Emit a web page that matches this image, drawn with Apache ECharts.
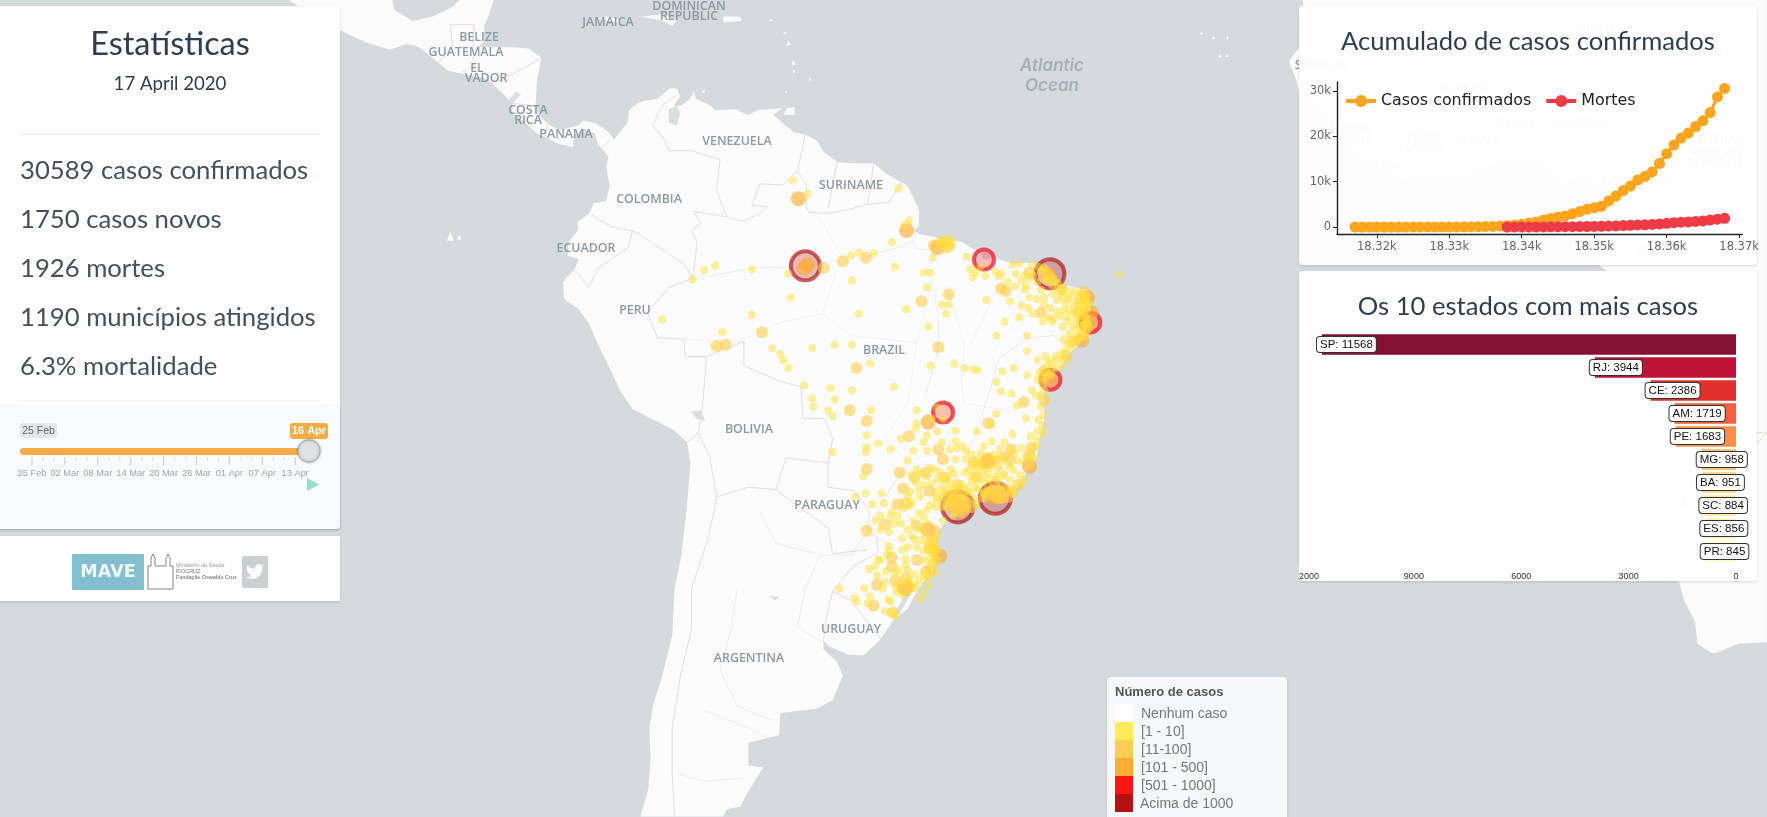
<!DOCTYPE html>
<html>
<head>
<meta charset="utf-8">
<title>Estatísticas COVID-19 Brasil</title>
<script src="https://cdn.jsdelivr.net/npm/echarts@6/dist/echarts.min.js"></script>
<style>
  html, body { margin: 0; padding: 0; background: #d4dadd; overflow: hidden; }
  #chart { width: 1767px; height: 817px; }
</style>
</head>
<body>
<div id="chart"></div>
<script>
// ─── Dados: painel de estatísticas ─────────────────────────────────────────
const statLines = ['30589 casos confirmados', '1750 casos novos', '1926 mortes', '1190 municípios atingidos', '6.3% mortalidade'];
const sliderTicks = ['25 Feb', '02 Mar', '08 Mar', '14 Mar', '20 Mar', '26 Mar', '01 Apr', '07 Apr', '13 Apr'];

// ─── Dados: acumulado ──────────────────────────────────────────────────────
const caseDays = [18317, 18318, 18319, 18320, 18321, 18322, 18323, 18324, 18325, 18326, 18327, 18328, 18329, 18330, 18331, 18332, 18333, 18334, 18335, 18336, 18337, 18338, 18339, 18340, 18341, 18342, 18343, 18344, 18345, 18346, 18347, 18348, 18349, 18350, 18351, 18352, 18353, 18354, 18355, 18356, 18357, 18358, 18359, 18360, 18361, 18362, 18363, 18364, 18365, 18366, 18367, 18368];
const caseTotals = [0, 1, 1, 1, 1, 2, 2, 2, 3, 4, 8, 13, 19, 25, 25, 34, 52, 77, 98, 121, 200, 291, 428, 621, 904, 1128, 1546, 1891, 2201, 2433, 2915, 3417, 3904, 4256, 4579, 5717, 6836, 8044, 9056, 10360, 11130, 12161, 14034, 16170, 18092, 19638, 20727, 22169, 23430, 25262, 28700, 30589];
const deathDays = [18338, 18339, 18340, 18341, 18342, 18343, 18344, 18345, 18346, 18347, 18348, 18349, 18350, 18351, 18352, 18353, 18354, 18355, 18356, 18357, 18358, 18359, 18360, 18361, 18362, 18363, 18364, 18365, 18366, 18367, 18368];
const deathTotals = [1, 4, 7, 11, 18, 25, 34, 46, 59, 77, 92, 111, 136, 159, 201, 240, 324, 359, 445, 486, 564, 686, 819, 950, 1057, 1124, 1223, 1328, 1532, 1736, 1926];
const dayTicks = [18320, 18330, 18340, 18350, 18360, 18370];
const totalTicks = [0, 10000, 20000, 30000];

// ─── Dados: estados ────────────────────────────────────────────────────────
const stateNames = ['SP', 'RJ', 'CE', 'AM', 'PE', 'MG', 'BA', 'SC', 'ES', 'PR'];
const stateCases = [11568, 3944, 2386, 1719, 1683, 958, 951, 884, 856, 845];
const stateColors = ['#861033', '#be1336', '#e3302a', '#f95f38', '#fd8f46', '#fdbb63', '#fed583', '#ffe89c', '#fff3b4', '#ffffcc'];

// ─── Dados: legenda ────────────────────────────────────────────────────────
const legendLabels = ['Nenhum caso', '[1 - 10]', '[11-100]', '[101 - 500]', '[501 - 1000]', 'Acima de 1000'];
const legendColors = ['#ffffff', '#ffeb55', '#ffcc55', '#ffac33', '#ff1414', '#b71010'];

// ─── Dados: municípios [lon, lat] por faixa de casos ───────────────────────
const citiesOver1000 = [[-60.0, -3.1], [-38.5, -3.8], [-46.6, -23.6], [-43.3, -22.9]];
const cities501to1000 = [[-44.3, -2.55], [-34.95, -8.05], [-38.45, -13.0], [-47.9, -15.8]];
const cities101to500 = [
  [-60.6, 2.8], [-51.1, 0.0], [-48.4, -1.5], [-35.2, -5.9], [-34.9, -7.2], [-35.0, -8.1], [-60.1, -3.3], [-59.8, -3.0],
  [-40.3, -20.3], [-49.2, -25.4], [-48.2, -27.5], [-51.2, -30.0], [-44.0, -19.9], [-49.2, -16.6],
  [-46.8, -23.3], [-46.4, -23.8], [-43.2, -22.7], [-43.6, -22.8], [-42.9, -22.6], [-38.5, -12.9], [-38.6, -3.9], [-35.7, -9.6]
];
const cities11to100 = [
  // norte e centro-oeste
  [-58.4, -3.3], [-56.7, -2.7], [-54.7, -2.4], [-67.8, -10.1], [-67.0, -10.0], [-63.8, -8.9], [-55.5, -12.0], [-49.8, -6.2], [-47.4, -5.6], [-48.3, -10.2],
  [-56.1, -15.6], [-54.6, -16.5], [-54.6, -20.5], [-51.7, -20.8], [-50.9, -17.8], [-48.3, -18.9], [-47.9, -19.7], [-48.7, -1.3], [-47.9, -1.1], [-47.4, -1.4],
  // nordeste
  [-42.8, -5.1], [-42.4, -5.3], [-40.3, -3.7], [-37.4, -5.2], [-36.0, -7.2], [-38.6, -4.0], [-39.3, -7.2], [-35.5, -5.4], [-35.8, -6.0], [-37.1, -10.9],
  [-36.5, -9.7], [-35.2, -8.5], [-39.0, -14.8], [-39.0, -12.2], [-40.8, -14.9], [-38.9, -3.6],
  // sudeste
  [-47.1, -22.9], [-47.8, -21.2], [-46.3, -24.0], [-45.9, -23.2], [-47.5, -23.5], [-43.4, -21.8], [-46.9, -23.1], [-46.5, -23.4], [-46.7, -23.8], [-46.2, -23.4], [-46.1, -23.8],
  [-46.9, -23.6], [-46.4, -23.2], [-46.6, -23.3], [-45.4, -23.6], [-49.4, -20.8], [-49.1, -22.3], [-51.4, -22.1], [-50.4, -21.2], [-47.6, -22.7],
  [-43.1, -22.9], [-42.8, -22.9], [-43.5, -22.5], [-43.0, -22.4], [-43.7, -22.5], [-42.2, -22.8], [-41.8, -22.4], [-43.3, -22.4], [-44.1, -22.5], [-42.5, -22.3], [-41.3, -21.8], [-43.4, -22.7], [-43.1, -22.7],
  [-44.1, -19.7], [-44.3, -20.1], [-43.9, -19.6], [-43.5, -19.9], [-42.6, -19.5], [-42.0, -19.8], [-45.2, -20.0], [-41.9, -18.9], [-40.4, -20.1], [-40.3, -19.4], [-40.1, -18.7], [-43.9, -16.7], [-45.0, -21.2], [-46.6, -21.8],
  // sul
  [-53.0, -25.0], [-54.6, -25.5], [-51.2, -23.3], [-51.9, -23.4], [-50.2, -27.8], [-52.4, -27.6], [-48.85, -26.3], [-48.7, -26.9], [-49.1, -26.9], [-49.4, -28.7], [-49.0, -28.5],
  [-53.7, -29.7], [-54.0, -31.3], [-52.4, -28.3], [-51.2, -29.2], [-51.0, -29.7], [-50.9, -29.9], [-51.5, -30.0], [-48.6, -25.5], [-50.2, -25.1], [-52.1, -29.4], [-52.3, -31.8]
];
const cities1to10 = [
  // norte
  [-61.1, 4.4], [-59.8, 3.2], [-51.8, 3.7], [-50.9, 0.9], [-51.2, 0.5], [-52.4, -1.0], [-69.9, -4.3], [-68.9, -3.5], [-67.9, -3.1], [-64.7, -3.4], [-61.5, -3.8], [-56.0, -2.2], [-55.3, -1.9], [-54.0, -2.0],
  [-55.9, -4.4], [-52.1, -3.2], [-61.3, -5.9], [-64.7, -7.4], [-67.3, -8.9], [-72.6, -7.8], [-62.9, -10.3], [-62.2, -10.8], [-61.9, -11.3], [-61.5, -12.0], [-59.4, -10.3], [-57.4, -10.0], [-55.9, -10.0],
  [-54.3, -11.6], [-60.1, -13.5], [-55.3, -7.3], [-51.1, -6.9], [-49.2, -8.4], [-49.0, -3.7], [-49.6, -3.7], [-49.3, -5.0], [-48.0, -6.5], [-47.4, -6.5], [-47.6, -7.3], [-49.0, -11.8], [-46.9, -11.6], [-46.0, -12.0], [-45.2, -12.1],
  [-47.9, -1.3], [-47.4, -1.0], [-47.1, -1.2], [-47.6, -1.7], [-48.8, -2.4], [-47.2, -0.8], [-48.2, -0.9], [-47.7, -0.7],
  // maranhão, piauí, ceará
  [-45.8, -2.3], [-45.5, -3.4], [-45.3, -4.1], [-43.3, -3.6], [-43.0, -4.0], [-44.1, -6.1], [-41.0, -6.6], [-41.2, -7.6], [-42.0, -6.2], [-41.8, -3.0], [-44.2, -4.0], [-42.5, -8.0], [-43.2, -9.2],
  [-41.2, -2.9], [-40.1, -3.0], [-39.5, -3.2], [-39.3, -3.6], [-40.3, -4.2], [-39.6, -4.5], [-38.9, -4.3], [-38.3, -4.8], [-37.8, -4.6], [-39.3, -5.2], [-40.7, -5.2], [-40.3, -5.9], [-39.0, -5.9], [-38.3, -5.5], [-39.0, -6.5], [-40.4, -6.8], [-38.5, -6.8],
  [-39.0, -3.3], [-38.7, -4.3], [-38.2, -4.2], [-40.0, -3.9], [-40.7, -3.9], [-37.8, -5.1], [-39.6, -6.0], [-40.0, -7.3],
  [-41.5, -3.8], [-41.0, -4.4], [-40.6, -4.9], [-41.6, -4.9], [-42.2, -4.5], [-42.8, -3.8], [-44.6, -3.2], [-45.0, -3.7],
  // rio grande do norte, paraíba, pernambuco, alagoas, sergipe
  [-37.3, -5.2], [-36.5, -5.3], [-36.0, -5.5], [-36.2, -6.2], [-35.6, -5.6], [-37.1, -6.4], [-35.4, -6.4], [-35.2, -6.9], [-35.9, -6.9], [-36.8, -7.0], [-37.3, -7.0], [-38.2, -7.7], [-35.3, -7.6], [-35.5, -8.2], [-36.5, -8.3], [-37.0, -8.0], [-38.3, -8.0], [-39.1, -8.0],
  [-40.5, -9.2], [-35.7, -8.9], [-36.5, -9.4], [-37.3, -9.5], [-36.0, -9.5], [-35.4, -9.3], [-36.6, -10.2], [-37.3, -10.6], [-37.5, -11.2], [-37.9, -10.9], [-35.4, -6.1], [-35.6, -7.0], [-35.7, -7.5], [-35.3, -8.8], [-35.9, -8.3], [-36.9, -6.0], [-35.1, -6.4], [-35.5, -6.7], [-36.2, -7.7], [-37.6, -7.5], [-35.2, -7.9],
  [-38.1, -4.5], [-37.6, -5.5], [-37.9, -6.1], [-37.4, -5.9], [-36.7, -5.7], [-36.4, -6.7], [-36.0, -6.5], [-35.7, -6.3], [-35.3, -5.7], [-36.3, -7.2], [-35.5, -7.3], [-35.9, -7.9], [-36.9, -7.6], [-37.9, -7.1], [-38.6, -7.6], [-37.4, -8.4], [-36.2, -8.7], [-35.6, -8.5], [-35.2, -8.2], [-36.8, -9.0], [-35.9, -9.2], [-36.3, -9.8], [-37.0, -10.0],
  [-32.4, -3.85],
  // bahia
  [-38.9, -12.3], [-39.3, -12.9], [-38.6, -12.5], [-39.1, -13.4], [-39.3, -14.3], [-39.5, -16.4], [-39.1, -17.5], [-39.6, -18.1], [-40.5, -12.6], [-41.7, -12.0], [-42.7, -12.3], [-43.2, -13.2], [-44.9, -12.2], [-41.9, -14.2], [-42.8, -14.0], [-40.5, -10.5], [-39.6, -11.3], [-41.4, -15.2], [-38.0, -12.0], [-38.3, -12.0], [-38.7, -11.6], [-39.0, -13.9], [-39.1, -16.0], [-39.3, -15.3],
  [-36.9, -11.2], [-37.4, -11.8], [-38.0, -11.3], [-38.4, -11.4], [-38.9, -11.0], [-38.4, -12.6], [-38.9, -12.8], [-39.4, -12.4], [-39.6, -13.0], [-39.7, -14.4], [-40.1, -13.9], [-39.2, -16.9], [-39.6, -17.4], [-39.8, -18.6],
  // centro-oeste e minas
  [-57.8, -13.7], [-55.9, -13.9], [-59.4, -14.6], [-57.4, -14.7], [-59.3, -15.3], [-58.0, -15.6], [-57.6, -16.1], [-54.2, -15.6], [-52.2, -13.6], [-54.6, -17.7], [-53.6, -18.4], [-54.6, -18.7], [-54.7, -19.1], [-52.5, -18.9], [-57.6, -19.1], [-54.9, -21.1], [-54.7, -22.5], [-55.6, -22.8], [-53.3, -22.5], [-54.1, -23.4],
  [-51.6, -18.0], [-50.2, -15.6], [-50.2, -16.7], [-50.3, -17.1], [-49.6, -18.3], [-49.3, -17.7], [-48.4, -17.4], [-48.0, -18.3], [-46.8, -17.3], [-46.8, -18.2], [-44.9, -17.4], [-43.7, -16.8], [-43.2, -15.9], [-41.8, -17.6], [-40.6, -16.3], [-40.2, -17.8], [-41.9, -19.0], [-50.5, -19.0], [-49.3, -19.0], [-47.3, -18.9], [-46.7, -18.8], [-46.2, -18.6], [-46.8, -19.7], [-45.4, -19.3], [-45.9, -19.7], [-45.4, -20.1], [-44.9, -20.3], [-44.6, -20.1], [-43.2, -19.7], [-42.6, -19.6], [-47.9, -16.3], [-48.9, -16.3], [-48.4, -15.4],
  [-51.0, -19.8], [-50.2, -20.5], [-49.3, -21.1], [-48.4, -21.3], [-47.7, -21.4], [-50.3, -21.6], [-49.6, -21.8], [-48.6, -22.4], [-47.6, -22.1], [-46.4, -21.8], [-45.4, -21.6], [-44.3, -21.6], [-43.1, -21.4], [-42.0, -21.4], [-41.1, -21.8], [-41.7, -22.4], [-40.1, -19.0], [-39.9, -19.6], [-41.7, -20.6], [-41.1, -21.0], [-40.7, -21.4], [-46.0, -20.8], [-45.0, -20.7], [-44.0, -20.9], [-43.0, -20.6], [-42.5, -20.9], [-48.6, -20.6], [-47.2, -20.5], [-46.4, -22.5], [-45.5, -22.4], [-44.8, -22.2], [-48.0, -23.0], [-47.0, -22.2], [-46.0, -22.0], [-45.0, -23.4], [-44.5, -22.9], [-47.0, -24.3], [-47.9, -24.7],
  [-45.9, -19.0], [-44.3, -18.6], [-43.6, -18.2], [-42.9, -18.8], [-42.5, -18.3], [-41.0, -18.8], [-40.6, -19.5], [-41.2, -19.9], [-41.6, -19.3], [-43.4, -19.3], [-44.6, -19.2], [-44.9, -19.7], [-43.7, -20.4], [-42.9, -20.2], [-42.1, -20.3], [-45.6, -20.6], [-44.4, -20.7], [-43.3, -21.1], [-42.6, -21.1], [-45.4, -21.1], [-44.7, -21.3], [-46.9, -20.9], [-47.4, -21.1], [-48.1, -20.8], [-49.0, -20.4], [-49.9, -20.9], [-50.7, -21.0], [-47.2, -21.7], [-46.7, -22.2], [-48.1, -22.0], [-48.9, -21.7], [-50.0, -22.2], [-50.8, -22.4], [-51.0, -22.8], [-46.8, -22.6], [-47.3, -22.5], [-47.9, -22.5], [-48.5, -22.8], [-45.9, -22.8], [-45.2, -22.9], [-44.3, -22.5], [-45.8, -22.2], [-44.0, -22.2], [-42.7, -21.9], [-42.0, -22.1], [-47.3, -23.2], [-47.9, -23.6], [-48.5, -23.6], [-49.3, -23.8], [-46.1, -22.6], [-45.0, -22.0], [-43.9, -21.3],
  // sul
  [-53.1, -23.3], [-52.4, -24.0], [-51.4, -23.7], [-50.8, -23.5], [-51.9, -24.3], [-52.5, -24.4], [-49.9, -22.8], [-49.0, -23.4], [-48.4, -23.0], [-50.5, -24.7], [-49.9, -25.4], [-51.5, -26.1], [-51.5, -27.0], [-52.7, -26.7], [-51.0, -26.8], [-51.2, -27.7], [-52.8, -27.4], [-53.4, -27.8], [-54.4, -28.5], [-53.6, -27.8], [-52.9, -28.7], [-53.7, -29.0], [-50.9, -29.3], [-49.3, -29.2], [-48.6, -28.8], [-48.4, -27.8], [-48.9, -27.3], [-49.3, -26.7], [-48.4, -27.0], [-48.7, -27.6], [-49.2, -29.8], [-49.6, -30.4], [-50.0, -30.8], [-52.1, -29.8], [-52.7, -30.8], [-54.8, -30.0], [-55.7, -30.7], [-57.0, -30.0], [-55.5, -31.0], [-54.5, -31.1], [-53.0, -31.7], [-52.4, -31.8], [-52.1, -32.1], [-52.5, -31.0], [-54.3, -30.6],
  [-48.7, -26.2], [-48.7, -26.6], [-48.6, -27.2], [-48.7, -28.2], [-48.9, -28.0], [-49.0, -27.7], [-49.2, -26.4], [-49.6, -27.1], [-50.4, -26.2], [-49.5, -25.8], [-48.5, -25.9], [-49.6, -24.4], [-51.0, -25.4], [-52.6, -25.6], [-53.8, -24.7], [-50.6, -23.2], [-50.0, -29.4], [-50.5, -28.9], [-50.4, -30.0], [-51.6, -29.5], [-51.8, -28.6], [-53.2, -30.0],
  [-49.3, -24.9], [-50.0, -24.1], [-50.6, -25.9], [-51.6, -24.9], [-52.2, -24.9], [-53.4, -24.3], [-53.4, -25.4], [-49.8, -26.3], [-50.2, -26.8], [-49.5, -27.8], [-49.0, -27.0], [-49.1, -28.9], [-49.7, -29.0], [-50.3, -29.7], [-51.0, -28.6], [-51.2, -28.2], [-52.1, -28.8], [-51.4, -30.5], [-52.0, -30.3], [-53.0, -29.5], [-53.9, -28.3], [-52.6, -27.1]
];

// ─── Dados: contornos [lon, lat] ───────────────────────────────────────────
const southAmericaCoast = [
  [-77.4, 8.7], [-76.8, 8.0], [-75.6, 9.5], [-75.5, 10.5], [-74.8, 11.1], [-74.2, 11.3], [-73.0, 11.5], [-71.9, 12.4], [-71.3, 12.4], [-71.0, 11.7], [-71.6, 10.9], [-71.0, 10.9], [-70.2, 11.4], [-69.8, 12.15], [-69.6, 11.5], [-68.3, 10.9], [-68.0, 10.5], [-66.2, 10.6], [-65.0, 10.1], [-64.2, 10.5], [-62.0, 10.7], [-62.8, 10.1], [-61.0, 8.6], [-60.0, 8.4], [-59.0, 7.9], [-58.4, 6.9], [-57.2, 6.0], [-55.9, 5.9], [-54.0, 5.9], [-52.9, 5.0], [-51.7, 4.3], [-51.0, 3.9], [-50.0, 1.8], [-50.0, 0.4], [-50.5, 0.0], [-50.0, -0.3], [-48.6, -0.6], [-48.0, -0.7], [-46.2, -1.0], [-44.7, -2.0], [-44.3, -2.6], [-43.4, -2.4], [-41.8, -2.9], [-40.0, -2.8], [-38.5, -3.7], [-37.2, -4.8], [-35.3, -5.2], [-34.8, -7.1], [-35.0, -8.9], [-35.9, -9.9], [-37.0, -11.0], [-38.0, -12.6], [-38.5, -13.0], [-39.0, -14.0], [-39.0, -16.3], [-39.4, -18.0], [-39.7, -19.6], [-40.3, -20.3], [-41.0, -21.5], [-42.0, -23.0], [-43.2, -23.0], [-44.6, -23.3], [-46.3, -24.0], [-47.9, -25.0], [-48.5, -26.0], [-48.6, -27.6], [-48.8, -28.6], [-50.0, -29.9], [-51.0, -31.5], [-52.2, -32.3], [-53.4, -33.8], [-54.9, -34.95], [-56.2, -34.9], [-57.9, -34.3], [-58.4, -33.9], [-58.4, -34.5], [-57.2, -35.4], [-56.7, -36.4], [-57.6, -38.1], [-59.0, -38.7], [-62.2, -39.0], [-62.3, -40.5], [-65.0, -41.0], [-65.0, -42.5], [-63.7, -42.6], [-65.3, -44.5], [-65.7, -45.1], [-66.9, -45.25], [-67.2, -45.7],
  [-74.5, -45.7], [-73.8, -44.0], [-73.6, -42.0], [-73.7, -40.0], [-73.4, -38.5], [-72.6, -36.5], [-71.7, -33.5], [-71.5, -30.0], [-70.9, -27.5], [-70.4, -23.5], [-70.1, -20.0], [-70.4, -18.3], [-71.5, -17.3], [-75.2, -15.5], [-76.3, -13.9], [-77.2, -12.0], [-78.2, -10.0], [-79.0, -8.2], [-79.9, -6.9], [-81.2, -6.0], [-81.3, -4.5], [-80.3, -3.4], [-79.9, -2.5], [-80.9, -2.2], [-80.8, -1.0], [-80.0, 0.0], [-80.0, 0.8], [-79.0, 1.5], [-78.6, 2.4], [-77.5, 2.6], [-77.2, 3.9], [-77.5, 5.5], [-77.3, 6.5], [-77.9, 7.2]
];
const centralAmericaCoast = [
  [-77.9, 7.2], [-78.2, 7.5], [-78.5, 8.5], [-79.5, 8.95], [-80.4, 8.2], [-80.4, 7.3], [-81.7, 7.6], [-82.9, 8.2], [-83.6, 8.5], [-84.8, 9.6], [-85.8, 10.2], [-85.7, 11.1], [-87.6, 12.9], [-87.9, 13.2], [-89.4, 13.5], [-91.4, 13.9], [-93.9, 15.9], [-95.0, 16.2], [-96.5, 15.7], [-98.6, 16.3], [-101.5, 17.6], [-104.0, 19.0], [-105.4, 19.85],
  [-96.3, 19.85], [-96.1, 19.0], [-94.5, 18.1], [-92.7, 18.5], [-91.0, 19.3], [-90.4, 19.85], [-87.4, 19.85], [-87.8, 18.6], [-88.2, 17.8], [-88.3, 16.3], [-88.9, 15.9], [-87.8, 15.9], [-85.7, 15.9], [-84.3, 15.8], [-83.2, 15.0], [-83.6, 13.0], [-83.7, 11.0], [-83.4, 10.0], [-82.3, 9.1], [-81.5, 8.8], [-80.0, 9.2], [-79.5, 9.6], [-78.5, 9.4], [-77.4, 8.7]
];
const africaCoast = [
  [-16.3, 19.85], [-16.0, 18.0], [-16.5, 16.0], [-17.5, 14.7], [-16.8, 13.0], [-16.7, 12.3], [-15.0, 11.0], [-13.7, 9.5], [-13.2, 8.5], [-12.5, 7.4], [-11.4, 6.9], [-9.5, 5.4], [-7.5, 4.4], [-5.0, 5.1], [-3.0, 5.1], [-2.0, 4.8], [0.0, 5.7], [1.5, 6.2], [2.7, 6.4], [4.4, 6.3], [5.5, 5.2], [6.2, 4.3], [7.5, 4.5], [8.5, 4.6], [9.7, 3.9], [9.8, 2.5], [9.5, 1.0], [9.3, -0.5], [8.8, -1.0], [9.7, -3.0], [11.0, -4.0], [12.0, -5.0], [12.3, -6.2], [13.0, -8.0], [13.7, -10.5], [13.9, -12.0], [12.6, -13.5], [12.0, -16.0], [11.8, -18.0], [13.0, -20.0], [14.5, -22.5], [14.6, -25.0], [15.2, -27.0], [16.5, -28.7], [17.3, -31.0], [18.2, -32.5], [18.4, -34.1], [19.5, -34.7], [20.0, -34.8], [22.0, -34.1], [24.5, -34.0], [24.5, 19.85]
];
const smallIslands = [
  [[-74.4, 18.45], [-72.6, 18.15], [-71.7, 17.7], [-71.3, 18.2], [-72.5, 18.6], [-73.5, 18.6]],
  [[-67.2, 18.0], [-65.6, 18.1], [-65.7, 18.45], [-67.2, 18.5]],
  [[-61.9, 10.1], [-60.95, 10.1], [-60.95, 10.8], [-61.6, 10.7]],
  [[-69.1, 12.05], [-68.8, 12.05], [-68.9, 12.35]],
  [[-63.2, 18.1], [-62.9, 18.1], [-63.0, 18.3]], [[-62.0, 17.1], [-61.7, 17.0], [-61.7, 17.2]], [[-61.7, 16.0], [-61.3, 16.1], [-61.5, 16.45]],
  [[-61.2, 14.4], [-60.85, 14.4], [-61.1, 14.85]], [[-61.1, 13.7], [-60.9, 13.75], [-61.0, 14.1]], [[-59.7, 13.05], [-59.45, 13.1], [-59.6, 13.3]], [[-61.8, 12.0], [-61.6, 12.05], [-61.7, 12.2]],
  [[-91.5, -0.9], [-90.9, -0.9], [-91.2, -0.1]], [[-90.6, -0.8], [-90.2, -0.8], [-90.4, -0.4]],
  [[-25.3, 17.0], [-25.0, 17.0], [-25.2, 17.2]], [[-24.3, 16.6], [-24.0, 16.6], [-24.1, 16.8]], [[-23.7, 15.0], [-23.4, 15.1], [-23.6, 15.3]], [[-23.0, 16.6], [-22.8, 16.6], [-22.9, 16.9]], [[-23.1, 15.1], [-22.8, 15.1], [-23.0, 15.3]],
  [[-78.3, 18.3], [-76.3, 17.95], [-76.4, 18.2], [-77.5, 18.5]]
];
const lakes = [
  [[-72.0, 10.6], [-71.3, 10.9], [-71.0, 10.2], [-71.3, 9.2], [-72.0, 9.4]],
  [[-70.0, -15.7], [-69.2, -15.6], [-68.8, -16.5], [-69.6, -16.3]],
  [[-52.2, -31.9], [-51.7, -31.9], [-50.8, -30.5], [-51.2, -30.2], [-51.5, -30.9]],
  [[-85.8, 11.0], [-85.0, 11.9], [-85.4, 12.1], [-86.0, 11.5]],
  [[-63.2, -30.6], [-62.3, -30.6], [-62.6, -30.9]]
];
const countryBorders = [
  [[-51.6, 4.2], [-52.6, 2.5], [-54.5, 2.3], [-56.0, 1.9], [-58.0, 1.5], [-59.7, 1.6], [-59.9, 2.2], [-59.9, 4.0], [-60.7, 5.2], [-62.0, 4.0], [-64.0, 4.1], [-64.7, 2.2], [-63.4, 2.1], [-64.0, 1.5], [-65.5, 0.8], [-66.9, 1.2], [-69.8, 1.7], [-69.2, 0.6], [-70.0, 0.0], [-69.5, -1.0], [-69.9, -4.2], [-72.0, -5.0], [-73.9, -7.2], [-73.0, -9.4], [-70.6, -9.5], [-70.6, -11.0], [-69.6, -11.0], [-68.7, -11.0], [-65.4, -9.7], [-65.4, -11.8], [-62.3, -13.1], [-60.4, -13.6], [-60.2, -16.3], [-58.3, -16.3], [-57.6, -18.0], [-58.0, -20.0], [-58.0, -22.0], [-55.7, -22.3], [-54.3, -24.0], [-54.6, -25.5], [-53.7, -26.0], [-53.6, -27.2], [-55.8, -28.3], [-57.6, -30.2], [-56.0, -30.9], [-53.4, -33.7]],
  [[-71.3, 11.8], [-72.5, 11.0], [-73.4, 9.2], [-72.4, 8.0], [-72.0, 7.0], [-70.0, 7.0], [-67.5, 6.2], [-67.8, 3.5], [-66.9, 1.2]],
  [[-69.9, -4.2], [-70.7, -2.9], [-74.8, -0.2], [-75.3, 0.0], [-77.0, 0.3], [-78.8, 1.4]],
  [[-75.2, -0.1], [-75.6, -1.5], [-78.3, -3.4], [-79.0, -5.0], [-80.3, -3.4]],
  [[-68.7, -11.0], [-69.0, -15.0], [-69.4, -17.5], [-70.4, -18.3]],
  [[-69.4, -17.5], [-68.4, -19.5], [-67.8, -22.8]],
  [[-67.8, -22.8], [-68.5, -26.0], [-70.0, -30.0], [-70.0, -33.0], [-71.0, -36.5], [-71.7, -40.0], [-71.7, -43.0], [-71.5, -45.7]],
  [[-67.8, -22.8], [-65.0, -22.0], [-62.6, -22.2], [-61.7, -19.6], [-58.0, -20.0]],
  [[-62.6, -22.2], [-58.0, -25.3], [-57.6, -27.3], [-54.6, -27.0]],
  [[-58.4, -33.9], [-58.1, -32.0], [-57.6, -30.2]],
  [[-57.2, 6.0], [-58.0, 2.0]], [[-54.0, 5.9], [-54.5, 2.3]], [[-60.7, 5.2], [-60.0, 8.4]],
  [[-92.2, 14.6], [-91.0, 16.0], [-91.2, 17.8], [-89.1, 17.8], [-89.2, 15.9]], [[-89.2, 14.3], [-87.8, 13.4]], [[-89.2, 15.9], [-89.2, 14.3], [-90.1, 13.8]],
  [[-87.0, 13.0], [-85.0, 14.0], [-83.2, 15.0]], [[-85.7, 11.1], [-83.7, 10.9]], [[-82.9, 8.2], [-82.6, 9.5]], [[-77.2, 7.9], [-77.9, 7.2]],
  [[17.0, -28.7], [20.0, -28.4], [20.0, -22.0], [24.5, -17.5]], [[11.8, -17.3], [24.5, -17.5]]
];
const stateBorders = [
  [[-58.5, -7.3], [-56.8, -2.3], [-58.8, 1.2]], [[-66.0, -9.8], [-62.0, -8.0], [-58.5, -7.3], [-56.0, -9.2], [-50.2, -9.8]],
  [[-50.2, -9.8], [-49.0, -5.3], [-47.5, -5.0], [-46.0, -10.0], [-46.3, -13.0], [-46.0, -15.0], [-40.0, -16.0]],
  [[-50.2, -9.8], [-51.0, -15.0], [-53.0, -18.0], [-51.0, -20.0], [-53.0, -22.7], [-48.0, -24.8]],
  [[-45.5, -10.0], [-43.0, -5.0], [-42.0, -3.0]], [[-41.3, -3.0], [-41.0, -7.5], [-43.5, -10.5]], [[-50.8, -20.0], [-47.0, -20.5], [-46.5, -22.5], [-44.7, -23.0]],
  [[-53.7, -26.3], [-48.6, -26.0]], [[-53.8, -27.2], [-50.0, -28.0], [-49.7, -29.3]], [[-40.0, -16.0], [-41.0, -20.5], [-41.7, -21.2]], [[-70.6, -9.5], [-66.0, -9.8]], [[-50.9, -19.8], [-47.4, -19.0], [-47.3, -15.4]],
  [[-37.5, -4.7], [-38.5, -7.0], [-40.9, -7.6]], [[-37.0, -6.6], [-35.0, -6.5]], [[-38.7, -8.8], [-35.2, -8.9]], [[-36.4, -10.5], [-38.0, -9.5]]
];
const rivers = [
  [[-69.9, -4.3], [-64.7, -3.3], [-60.0, -3.2], [-56.7, -2.5], [-54.7, -2.3], [-52.2, -1.6], [-50.6, -1.0], [-50.2, -0.1]],
  [[-50.6, -1.0], [-50.2, -1.6], [-49.0, -1.7], [-48.6, -0.9]],
  [[-48.5, -1.5], [-49.3, -3.5], [-48.7, -5.3], [-48.3, -8.0], [-48.3, -10.5], [-49.5, -14.5]],
  [[-46.0, -19.5], [-44.9, -17.3], [-43.9, -14.3], [-43.0, -11.2], [-40.5, -9.4], [-38.2, -9.2], [-36.5, -10.5]],
  [[-58.4, -34.0], [-60.7, -32.9], [-60.0, -30.0], [-58.7, -27.4], [-55.9, -27.4], [-54.6, -25.5], [-53.0, -22.8], [-51.0, -20.1]],
  [[-64.0, -24.0], [-62.6, -26.5], [-59.0, -27.3]], [[-66.0, -30.0], [-66.5, -33.0], [-67.5, -36.0], [-66.0, -38.5], [-63.0, -39.5]],
  [[-69.0, -38.8], [-65.0, -40.0], [-63.0, -40.8]], [[-71.2, -43.0], [-69.0, -43.5], [-65.5, -43.3]]
];

// ─── Projeção (Web Mercator, zoom 4, alinhada à janela) ────────────────────
const W = 1767;
const H = 817;
const K = 256 * 16 / 360;
const R = 256 * 16 / (2 * Math.PI);
const X0 = 1488;
const Y0 = 230.5;
const mercator = {
  project: ([lon, lat]) => [lon * K, -R * Math.asinh(Math.tan(lat * Math.PI / 180))],
  unproject: ([x, y]) => [x / K, Math.atan(Math.sinh(-y / R)) * 180 / Math.PI],
};
const frameNW = mercator.unproject([-X0, -Y0]);
const frameSE = mercator.unproject([W - X0, H - Y0]);
const frame = [frameNW, [frameSE[0], frameNW[1]], frameSE, [frameNW[0], frameSE[1]]];

function feature(name, rings) {
  return { type: 'Feature', properties: { name }, geometry: { type: 'MultiPolygon', coordinates: rings.map(r => [r]) } };
}
echarts.registerMap('atlas', {
  type: 'FeatureCollection',
  features: [
    feature('frame', [frame]),
    feature('land', [southAmericaCoast, centralAmericaCoast, africaCoast, ...smallIslands]),
    feature('lakes', lakes),
  ],
});

// ─── Elementos gráficos ────────────────────────────────────────────────────
const FONT = 'Lato, "Open Sans", sans-serif';
const OCEAN = '#d4dadd';
const LAND = '#fbfbfb';
const INK = '#2c3e50';
const graphics = [];

function text(str, x, y, font, fill, align, z) {
  graphics.push({ type: 'text', x, y, z: z ?? 12, silent: true, style: { text: str, font, fill, align: align || 'left', verticalAlign: 'middle' } });
}
function panel(x, y, width, height, fill, r, z) {
  graphics.push({
    type: 'rect', z: z ?? 10, silent: true, shape: { x, y, width, height, r: r ?? 4 },
    style: { fill, shadowBlur: 3, shadowColor: 'rgba(0,0,0,0.14)', shadowOffsetY: 1 },
  });
}
function mapLabel(str, x, y) {
  text(str, x, y, '600 12.4px "Open Sans", Inter, sans-serif', '#8d98a3', 'center', 2);
}

// rótulos do mapa de base
[['BELIZE', 479, 37], ['GUATEMALA', 466, 52], ['EL', 477, 68], ['VADOR', 486, 78], ['COSTA', 528, 110], ['RICA', 528, 120], ['PANAMA', 566, 134],
 ['JAMAICA', 608, 22], ['DOMINICAN', 689, 6], ['REPUBLIC', 689, 16], ['VENEZUELA', 737, 141], ['COLOMBIA', 649, 199], ['SURINAME', 851, 185],
 ['ECUADOR', 586, 248], ['PERU', 635, 310], ['BRAZIL', 884, 350], ['BOLIVIA', 749, 429], ['PARAGUAY', 827, 505], ['URUGUAY', 851, 629], ['ARGENTINA', 749, 658],
 ['SENEGAL', 1322, 65], ['BURKINA', 1465, 88], ['NIGER', 1595, 28], ['CHAD', 1705, 52], ['SIERRA', 1350, 128], ['LEONE', 1352, 140], ['IVORY', 1425, 136], ['COAST', 1425, 147], ['GHANA', 1477, 140], ['LIBERIA', 1378, 166],
 ['BENIN', 1515, 123], ['NIGERIA', 1580, 123], ['CENTRAL', 1716, 140], ['AFRICAN', 1716, 152], ['REPUBLIC', 1716, 163], ['CAMEROON', 1638, 180], ['CONGO', 1660, 250], ['ANGOLA', 1690, 368], ['NAMIBIA', 1690, 503]
].forEach(l => mapLabel(l[0], l[1], l[2]));
text('Atlantic', 1052, 66, 'italic 600 17px Inter, "Open Sans", sans-serif', '#a6b0b8', 'center', 2);
text('Ocean', 1052, 86, 'italic 600 17px Inter, "Open Sans", sans-serif', '#a6b0b8', 'center', 2);

// painel esquerdo
panel(-6, 6, 346, 523, 'rgba(255,255,255,0.985)');
panel(-6, 406, 346, 123, '#f8fafb');
panel(-6, 536, 346, 65, 'rgba(255,255,255,0.985)', 0);
text('Estatísticas', 170, 45, '32.4px ' + FONT, INK, 'center');
text('17 April 2020', 170, 84, '18.6px ' + FONT, INK, 'center');
[134, 401].forEach(y => graphics.push({ type: 'line', z: 11, silent: true, shape: { x1: 20, y1: y, x2: 320, y2: y }, style: { stroke: '#eceff1', lineWidth: 1 } }));
statLines.forEach((s, i) => text(s, 20, 171 + i * 49, '25.7px ' + FONT, '#43515f', 'left'));

// slider de datas
sliderTicks.forEach((s, i) => {
  const x = 32 + i * 32.9;
  text(s, x, 473, '9.3px "Liberation Sans", Arial, sans-serif', '#a0a6ab', 'center');
  graphics.push({ type: 'line', z: 11, silent: true, shape: { x1: x, y1: 457, x2: x, y2: 465 }, style: { stroke: '#dcc9a4', lineWidth: 1 } });
  [1, 2].forEach(m => {
    if (i < 8 || m === 1) graphics.push({ type: 'line', z: 11, silent: true, shape: { x1: x + m * 11, y1: 457, x2: x + m * 11, y2: 461 }, style: { stroke: '#dfe2e4', lineWidth: 1 } });
  });
});
graphics.push(
  { type: 'rect', z: 12, silent: true, shape: { x: 20, y: 448, width: 290, height: 7, r: 3.5 }, style: { fill: '#f7ad44' } },
  { type: 'circle', z: 13, silent: true, shape: { cx: 309, cy: 451, r: 11 }, style: { fill: '#e0e2e4', stroke: '#a9aeb1', lineWidth: 1, shadowBlur: 3, shadowColor: 'rgba(0,0,0,0.3)' } },
  { type: 'rect', z: 12, silent: true, shape: { x: 20, y: 423, width: 37, height: 15, r: 3 }, style: { fill: '#e4e6e7' } },
  { type: 'rect', z: 12, silent: true, shape: { x: 290, y: 423, width: 38, height: 16, r: 3 }, style: { fill: '#f7ad44' } },
  { type: 'polygon', z: 12, silent: true, shape: { points: [[307, 478], [319, 484.5], [307, 491]] }, style: { fill: '#95e0c8' } }
);
text('25 Feb', 38.5, 431, '10.5px "Liberation Sans", Arial, sans-serif', '#666', 'center', 13);
text('16 Apr', 309, 431, 'bold 11px "Liberation Sans", Arial, sans-serif', '#fff', 'center', 13);

// logos
graphics.push(
  { type: 'rect', z: 12, silent: true, shape: { x: 72, y: 554, width: 72, height: 36, r: 1 }, style: { fill: '#84bfd1' } },
  { type: 'polyline', z: 12, silent: true, shape: { points: [[148, 589], [148, 566], [151, 566], [151, 558], [153, 554], [155, 558], [155, 566], [166, 566], [166, 558], [168, 554], [170, 558], [170, 566], [173, 566], [173, 589], [148, 589]] }, style: { stroke: '#666', fill: 'none', lineWidth: 0.8 } },
  { type: 'rect', z: 12, silent: true, shape: { x: 242, y: 556, width: 26, height: 32, r: 2 }, style: { fill: '#cdd0d1' } }
);
text('MAVE', 108, 572, 'bold 17.5px "DejaVu Sans", Arial, sans-serif', '#eef7fa', 'center');
text('Ministério da Saúde', 176, 565, '5.5px "Liberation Sans", Arial, sans-serif', '#999');
text('FIOCRUZ', 176, 571, '5.5px "Liberation Sans", Arial, sans-serif', '#777');
text('Fundação Oswaldo Cruz', 176, 578, 'bold 5.2px "Liberation Sans", Arial, sans-serif', '#888');

// painéis da direita
panel(1299, 6, 458, 259, 'rgba(255,255,255,0.97)');
panel(1299, 271, 458, 310, 'rgba(255,255,255,0.985)');
text('Acumulado de casos confirmados', 1528, 42, '25.6px ' + FONT, INK, 'center');
text('Os 10 estados com mais casos', 1528, 307, '25.6px ' + FONT, INK, 'center');
// o painel corta o rótulo 12000 na margem esquerda
graphics.push({ type: 'rect', z: 30, silent: true, shape: { x: 1285, y: 566, width: 14, height: 14 }, style: { fill: OCEAN } });

// legenda dos municípios
panel(1107, 677, 180, 145, '#f6f8f9');
text('Número de casos', 1115, 692, 'bold 13px "Liberation Sans", Arial, sans-serif', '#555');
legendLabels.forEach((s, i) => {
  graphics.push({ type: 'rect', z: 12, silent: true, shape: { x: 1115, y: 704 + i * 18, width: 18, height: 18 }, style: { fill: legendColors[i] } });
  text(s, i === 5 ? 1140 : 1141, 714 + i * 18, '14px "Liberation Sans", Arial, sans-serif', '#777');
});

// ─── Séries ────────────────────────────────────────────────────────────────
function cityLayer(name, data, size, color, opacity, z, border) {
  return {
    name, type: 'scatter', coordinateSystem: 'geo', geoIndex: 0, data, symbolSize: size, z, silent: true,
    itemStyle: { color, opacity, borderColor: border || 'transparent', borderWidth: border ? 4 : 0 },
    animation: false,
  };
}
function lineLayer(name, polylines, color, width) {
  return {
    name, type: 'lines', coordinateSystem: 'geo', geoIndex: 0, polyline: true, silent: true, z: 1, animation: false,
    data: polylines.map(coords => ({ coords })), lineStyle: { color, width, opacity: 1 },
  };
}
const tickFont = { color: '#666', fontSize: 11.5, fontFamily: '"DejaVu Sans", Verdana, sans-serif' };
const TOP = 20;

const option = {
  animation: false,
  backgroundColor: OCEAN,
  geo: {
    map: 'atlas', projection: mercator, roam: false, silent: true, z: 0,
    left: 0, top: 0, width: W, height: H,
    itemStyle: { areaColor: LAND, borderWidth: 0, borderColor: 'transparent' },
    label: { show: false },
    regions: [
      { name: 'frame', itemStyle: { areaColor: OCEAN } },
      { name: 'lakes', itemStyle: { areaColor: '#d9dee0' } },
    ],
  },
  legend: {
    left: 1344, top: 93, z: TOP, padding: 0, itemWidth: 30, itemHeight: 15, itemGap: 13,
    data: ['Casos confirmados', 'Mortes'],
    lineStyle: { width: 4 },
    textStyle: { color: '#222', fontSize: 15.9, fontFamily: '"DejaVu Sans", Verdana, sans-serif' },
  },
  grid: [
    { left: 1337, width: 405, top: 82, height: 152, containLabel: false, z: TOP },
    { left: 1306.5, width: 429.5, top: 333, height: 230, containLabel: false, z: TOP },
  ],
  xAxis: [
    {
      type: 'value', gridIndex: 0, min: 18314.5, max: 18370.4, z: TOP, splitLine: { show: false },
      axisLine: { onZero: false, lineStyle: { color: '#222', width: 1.4 } }, axisTick: { show: true, length: 4, lineStyle: { color: '#222' }, customValues: dayTicks },
      axisLabel: { ...tickFont, customValues: dayTicks, margin: 7, formatter: v => (v / 1000).toFixed(2) + 'k' },
    },
    {
      type: 'value', gridIndex: 1, inverse: true, min: 0, max: 12000, interval: 3000, z: TOP, splitLine: { show: false },
      axisLine: { show: false }, axisTick: { show: false },
      axisLabel: { color: '#333', fontSize: 9, margin: 9, fontFamily: '"Liberation Sans Narrow", "Liberation Sans", Arial, sans-serif', hideOverlap: false, showMinLabel: true, showMaxLabel: true, formatter: v => String(v) },
    },
  ],
  yAxis: [
    {
      type: 'value', gridIndex: 0, min: -1545, max: 32000, z: TOP, splitLine: { show: false },
      axisLine: { onZero: false, lineStyle: { color: '#222', width: 1.4 } }, axisTick: { show: true, length: 4, lineStyle: { color: '#222' }, customValues: totalTicks },
      axisLabel: { ...tickFont, customValues: totalTicks, margin: 6, formatter: v => (v ? v / 1000 + 'k' : '0') },
    },
    {
      type: 'category', gridIndex: 1, inverse: true, data: stateNames, z: TOP,
      axisLine: { show: false }, axisTick: { show: false }, axisLabel: { show: false },
    },
  ],
  graphic: { elements: graphics },
  series: [
    lineLayer('rivers', rivers, '#e7eaeb', 0.8),
    lineLayer('states', stateBorders, '#f0f0f0', 0.8),
    lineLayer('borders', countryBorders, '#eed9d9', 1),
    cityLayer('Acima de 1000', citiesOver1000.slice(0, 2), 29, 'rgba(183,16,16,0.28)', 1, 3, 'rgba(183,30,30,0.72)'),
    cityLayer('Acima de 1000 sudeste', citiesOver1000.slice(2), 31, 'rgba(183,16,16,0.28)', 1, 3, 'rgba(183,30,30,0.72)'),
    cityLayer('[501 - 1000]', cities501to1000, 20, 'rgba(255,40,40,0.3)', 1, 3, 'rgba(240,40,50,0.8)'),
    cityLayer('[101 - 500]', cities101to500, 15, '#ffac33', 0.65, 4),
    cityLayer('[11-100]', cities11to100, 12, '#ffcf48', 0.6, 5),
    cityLayer('[1 - 10]', cities1to10, 8, '#ffe135', 0.5, 6),
    {
      name: 'Casos confirmados', type: 'line', xAxisIndex: 0, yAxisIndex: 0, z: TOP, animation: false,
      data: caseDays.map((d, i) => [d, caseTotals[i]]), symbol: 'circle', symbolSize: 11, showSymbol: true, showAllSymbol: true,
      lineStyle: { color: '#fca41c', width: 3 }, itemStyle: { color: '#fca41c' },
    },
    {
      name: 'Mortes', type: 'line', xAxisIndex: 0, yAxisIndex: 0, z: TOP + 1, animation: false,
      data: deathDays.map((d, i) => [d, deathTotals[i]]), symbol: 'circle', symbolSize: 11, showSymbol: true, showAllSymbol: true,
      lineStyle: { color: '#ee3b44', width: 3 }, itemStyle: { color: '#ee3b44' },
    },
    {
      name: 'Estados', type: 'bar', xAxisIndex: 1, yAxisIndex: 1, z: TOP, barWidth: 20.5, animation: false,
      data: stateCases.map((v, i) => ({ value: v, itemStyle: { color: stateColors[i] } })),
      label: {
        show: true, position: 'insideLeft', distance: 0, offset: [-5, 0],
        formatter: p => `${p.name}: ${p.value}`,
        color: '#111', fontSize: 11.5, fontFamily: '"Liberation Sans", Arial, sans-serif',
        backgroundColor: '#fff', borderColor: '#333', borderWidth: 1, borderRadius: 3, padding: [1.5, 3, 1.5, 3],
      },
    },
  ],
};

const chart = echarts.init(document.getElementById('chart'), null, { renderer: 'canvas', width: W, height: H });
chart.setOption(option);

// passarinho do twitter: a componente graphic não aceita pathData
const bird = echarts.graphic.makePath(
  'M23 3a10.9 10.9 0 0 1-3 1.46 4.48 4.48 0 0 0-7.86 3v1A10.66 10.66 0 0 1 3 4s-4 9 5 13a11.64 11.64 0 0 1-7 2c9 5 20 0 20-11.5a4.5 4.5 0 0 0-.08-.83A7.72 7.72 0 0 0 23 3z',
  { style: { fill: '#fff' }, silent: true, z: 13 },
  { x: 246, y: 563, width: 18, height: 17 },
  'center'
);
chart.getZr().add(bird);
</script>
</body>
</html>
